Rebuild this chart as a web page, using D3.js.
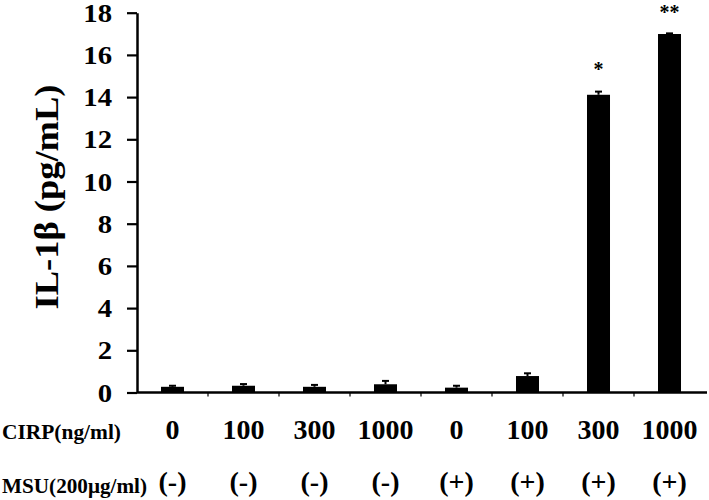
<!DOCTYPE html>
<html><head><meta charset="utf-8">
<script src="https://cdn.jsdelivr.net/npm/d3@7/dist/d3.min.js"></script>
<style>body{margin:0;background:#fff;} svg text{font-family:"Times New Roman","Liberation Serif",Tinos,serif !important;font-weight:bold;fill:#000;}</style>
</head><body>
<svg id="c" width="709" height="500"></svg>
<script>
const cirp = ["0","100","300","1000","0","100","300","1000"];
const msu = ["(-)","(-)","(-)","(-)","(+)","(+)","(+)","(+)"];
const values = [0.27, 0.32, 0.27, 0.39, 0.23, 0.78, 14.11, 16.99];
const errors = [0.05, 0.08, 0.09, 0.16, 0.09, 0.13, 0.15, 0.03];
const stars = ["", "", "", "", "", "", "*", "**"];
const yTicks = [0, 2, 4, 6, 8, 10, 12, 14, 16, 18];

const svg = d3.select("#c");
const idx = d3.range(cirp.length);
const x = d3.scaleBand().domain(idx).range([137, 705]).paddingInner(0.676).paddingOuter(0.338);
const y = d3.scaleLinear().domain([0, 18]).range([392.5, 12.7]);

// bars
svg.append("g").selectAll("rect").data(idx).join("rect")
  .attr("x", i => x(i)).attr("width", x.bandwidth())
  .attr("y", i => y(values[i])).attr("height", i => y(0) - y(values[i]))
  .attr("fill", "#000");

// error bars
const eg = svg.append("g").attr("stroke", "#000").attr("stroke-width", 2);
idx.forEach(i => {
  const cx = x(i) + x.bandwidth() / 2;
  eg.append("line").attr("x1", cx).attr("x2", cx).attr("y1", y(values[i])).attr("y2", y(values[i] + errors[i]));
  eg.append("line").attr("x1", cx - 3.5).attr("x2", cx + 3.5).attr("y1", y(values[i] + errors[i])).attr("y2", y(values[i] + errors[i]));
});

// y axis
const ya = svg.append("g").attr("transform", "translate(137,0)")
  .call(d3.axisLeft(y).tickValues(yTicks).tickSize(10).tickSizeOuter(0));
ya.attr("font-family", null);
ya.select(".domain").attr("stroke-width", 2.5);
ya.selectAll(".tick line").attr("stroke-width", 2.2);
ya.selectAll(".tick text").attr("font-size", 25).attr("dy", "0.34em")
  .attr("x", 0).attr("text-anchor", "end")
  .attr("transform", "translate(-25,0) scale(1.15,1)");

// x axis
const xBound = d3.scaleLinear().domain([0, 8]).range([137, 705]);
svg.append("line").attr("x1", 137).attr("x2", 707).attr("y1", y(0)).attr("y2", y(0))
  .attr("stroke", "#000").attr("stroke-width", 2.5);
svg.append("g").selectAll("line").data(d3.range(1, 8)).join("line")
  .attr("x1", d => xBound(d)).attr("x2", d => xBound(d))
  .attr("y1", y(0)).attr("y2", y(0) + 4).attr("stroke", "#000").attr("stroke-width", 1.2);

// stars
svg.append("g").selectAll("text").data(idx.filter(i => stars[i])).join("text")
  .attr("x", i => x(i) + x.bandwidth() / 2)
  .attr("y", i => Math.max(y(values[i] + errors[i]) - 16, 19))
  .attr("text-anchor", "middle").attr("font-size", 20)
  .text(i => stars[i]);

// category labels
svg.append("g").selectAll("text").data(idx).join("text")
  .attr("x", i => x(i) + x.bandwidth() / 2).attr("y", 439)
  .attr("text-anchor", "middle").attr("font-size", 28).text(i => cirp[i]);
svg.append("g").selectAll("text").data(idx).join("text")
  .attr("x", i => x(i) + x.bandwidth() / 2).attr("y", 491)
  .attr("text-anchor", "middle").attr("font-size", 28).text(i => msu[i]);

svg.append("text").attr("x", 2).attr("y", 439).attr("font-size", 21)
  .attr("textLength", 119).attr("lengthAdjust", "spacingAndGlyphs").text("CIRP(ng/ml)");
svg.append("text").attr("x", 2).attr("y", 493).attr("font-size", 21)
  .attr("textLength", 145).attr("lengthAdjust", "spacingAndGlyphs").text("MSU(200μg/ml)");

// y title
svg.append("text").attr("transform", "translate(58,197) rotate(-90)")
  .attr("text-anchor", "middle").attr("font-size", 33)
  .attr("textLength", 225).attr("lengthAdjust", "spacingAndGlyphs")
  .text("IL-1β (pg/mL)");
</script>
</body></html>
